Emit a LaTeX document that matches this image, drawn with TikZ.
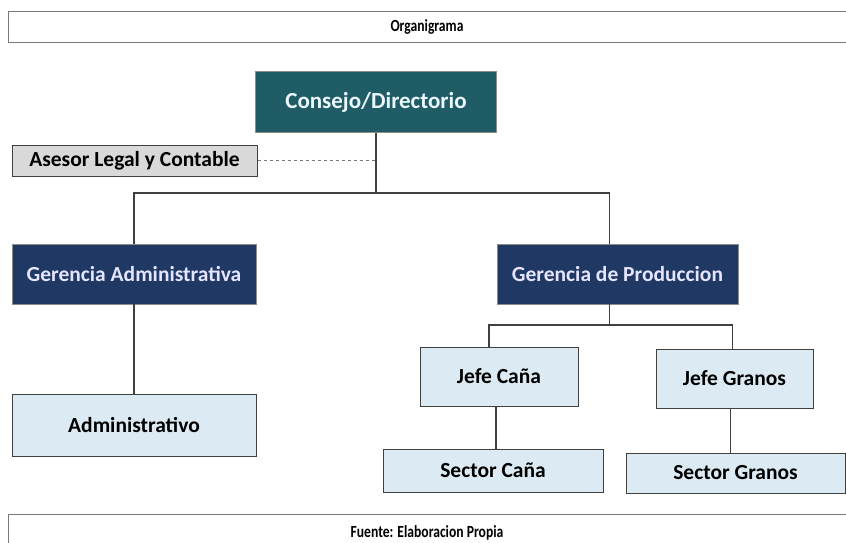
\documentclass[tikz,border=0pt]{standalone}
\usepackage{fontspec}
\setmainfont{Carlito}
\newfontfamily\narrowfont[FakeStretch=0.8]{Carlito}
\usepackage{tikz}

\definecolor{tealbox}{RGB}{31,92,102}
\definecolor{navybox}{RGB}{31,56,100}
\definecolor{lightbox}{RGB}{220,234,243}
\definecolor{greybox}{RGB}{217,217,217}
\definecolor{linegrey}{RGB}{64,64,64}

\begin{document}
\begin{tikzpicture}[x=1pt,y=-1pt,
		frame/.style={draw=linegrey!70,line width=1pt,fill=white,minimum width=838pt,font=\narrowfont\bfseries\fontsize{17}{19}\selectfont},
		topbox/.style={draw=linegrey!60,fill=tealbox,text=cyan!8,minimum width=241pt,minimum height=61pt,font=\bfseries\fontsize{23}{26}\selectfont},
		mgrbox/.style={draw=linegrey!60,fill=navybox,text=white!90!blue,minimum height=60pt,font=\bfseries\fontsize{21.5}{24}\selectfont},
		unitbox/.style={draw=linegrey,line width=0.9pt,fill=lightbox,font=\bfseries\fontsize{21.5}{24}\selectfont},
		advbox/.style={draw=linegrey,line width=1pt,fill=greybox,minimum width=245pt,minimum height=31pt,font=\bfseries\fontsize{21.5}{24}\selectfont},
		link/.style={draw=linegrey,line width=1.3pt}]
		\useasboundingbox (0,0) rectangle (846,542);
		\node[frame,minimum height=31pt] (title) at (427,26.5) {Organigrama};
		\node[topbox] (consejo) at (376,102) {Consejo/Directorio};
		\node[advbox] (asesor) at (134.5,160.5) {Asesor Legal y Contable};
		\node[mgrbox,minimum width=244pt] (gadm) at (134,274) {Gerencia Administrativa};
		\node[mgrbox,minimum width=241pt] (gprod) at (617.5,274) {Gerencia de Produccion};
		\node[unitbox,minimum width=244pt,minimum height=62pt] (admin) at (134,425) {Administrativo};
		\node[unitbox,minimum width=158pt,minimum height=59pt] (jcana) at (499,376.5) {Jefe Caña};
		\node[unitbox,minimum width=157pt,minimum height=59pt] (jgranos) at (734.5,378.5) {Jefe Granos};
		\node[unitbox,minimum width=220pt,minimum height=43pt] (scana) at (493,470.5) {Sector Caña};
		\node[unitbox,minimum width=219pt,minimum height=40pt] (sgranos) at (735.5,473) {Sector Granos};
		\node[frame,minimum height=36pt,anchor=north] (fuente) at (427,514) {Fuente: Elaboracion Propia};
		\coordinate (top) at (consejo.south |- 0,193);
		\coordinate (gp) at ([xshift=-8pt]gprod.north);
		\coordinate (low) at ([xshift=-8pt]gprod.south |- 0,325);
		\draw[link] (consejo.south) -- (top);
		\draw[link] (gadm.north) |- (top) -| (gp);
		\draw[dashed,linegrey!70] (asesor.east) -- (asesor.east -| consejo.south);
		\draw[link] (gadm.south) -- (admin.north);
		\draw[link] ([xshift=-8pt]gprod.south) -- (low);
		\draw[link] ([xshift=-10pt]jcana.north) |- (low) -| ([xshift=-2pt]jgranos.north);
		\draw[link] ([xshift=-3pt]jcana.south) -- ([xshift=-3pt]jcana.south |- scana.north);
		\draw[link] ([xshift=-4pt]jgranos.south) -- ([xshift=-4pt]jgranos.south |- sgranos.north);
\end{tikzpicture}
\end{document}
